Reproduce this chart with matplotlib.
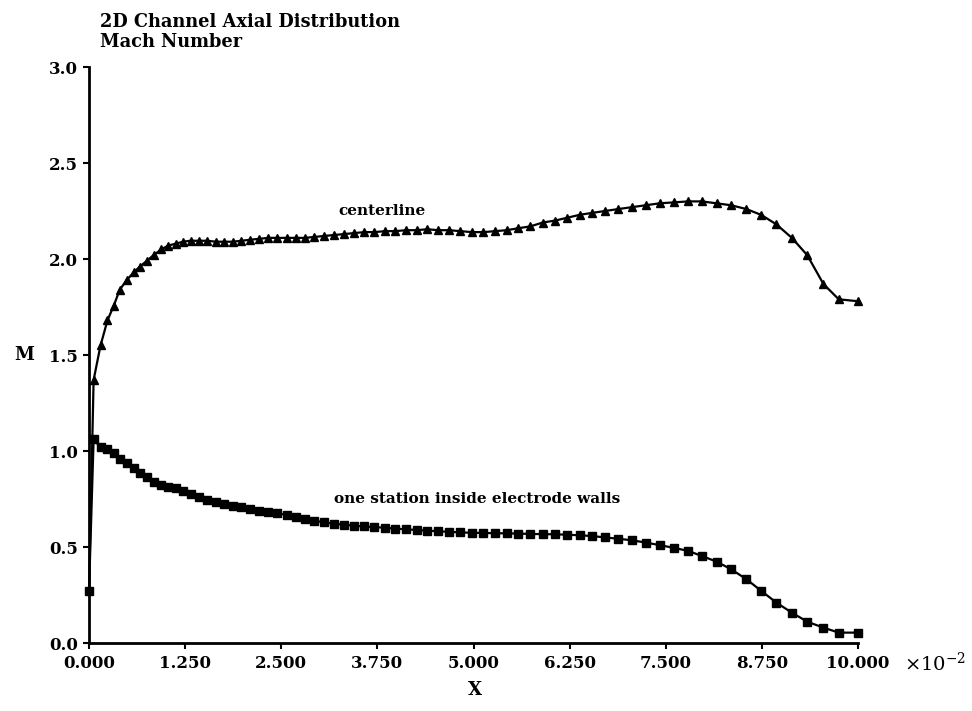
import numpy as np
import matplotlib
matplotlib.use("Agg")
import matplotlib.pyplot as plt

plt.rcParams['font.family'] = ['DejaVu Serif']
plt.rcParams['mathtext.fontset'] = 'dejavuserif'

# axial stations (x in units of 1e-2)
x = [0.00, 0.06, 0.15, 0.24, 0.32, 0.40, 0.49, 0.58, 0.66, 0.75,
     0.84, 0.94, 1.03, 1.13, 1.22, 1.32, 1.43, 1.54, 1.65, 1.76,
     1.87, 1.98, 2.09, 2.21, 2.33, 2.45, 2.57, 2.69, 2.81, 2.93,
     3.06, 3.19, 3.32, 3.45, 3.58, 3.71, 3.85, 3.98, 4.12, 4.26,
     4.40, 4.54, 4.68, 4.83, 4.98, 5.13, 5.28, 5.43, 5.58, 5.74,
     5.90, 6.06, 6.22, 6.38, 6.54, 6.71, 6.88, 7.06, 7.24, 7.42,
     7.61, 7.79, 7.97, 8.16, 8.35, 8.55, 8.74, 8.94, 9.14, 9.34,
     9.55, 9.75, 10.00]

# Mach number on the centerline
m_center = [0.27, 1.37, 1.55, 1.68, 1.755, 1.84, 1.89, 1.93, 1.96, 1.99,
            2.02, 2.05, 2.07, 2.08, 2.09, 2.095, 2.095, 2.095, 2.09, 2.09,
            2.09, 2.095, 2.10, 2.105, 2.11, 2.11, 2.11, 2.11, 2.11, 2.115,
            2.12, 2.125, 2.13, 2.135, 2.14, 2.14, 2.145, 2.145, 2.15, 2.15,
            2.155, 2.15, 2.15, 2.145, 2.14, 2.14, 2.145, 2.15, 2.16, 2.17,
            2.19, 2.20, 2.215, 2.23, 2.24, 2.25, 2.26, 2.27, 2.28, 2.29,
            2.295, 2.30, 2.30, 2.29, 2.28, 2.26, 2.23, 2.18, 2.11, 2.02,
            1.87, 1.79, 1.78]

# Mach number one station inside the electrode walls
m_wall = [0.27, 1.06, 1.02, 1.01, 0.99, 0.96, 0.935, 0.91, 0.885, 0.865,
          0.84, 0.825, 0.815, 0.805, 0.79, 0.775, 0.76, 0.745, 0.735, 0.725,
          0.715, 0.706, 0.698, 0.69, 0.683, 0.676, 0.667, 0.657, 0.648, 0.637,
          0.628, 0.621, 0.616, 0.611, 0.607, 0.604, 0.60, 0.596, 0.592, 0.589,
          0.585, 0.582, 0.579, 0.576, 0.574, 0.573, 0.572, 0.571, 0.570, 0.568,
          0.567, 0.566, 0.564, 0.561, 0.557, 0.55, 0.543, 0.535, 0.523, 0.51,
          0.495, 0.48, 0.453, 0.424, 0.384, 0.332, 0.272, 0.21, 0.158, 0.111,
          0.08, 0.054, 0.054]

xticks = [0, 1.25, 2.5, 3.75, 5.0, 6.25, 7.5, 8.75, 10.0]
yticks = [0.0, 0.5, 1.0, 1.5, 2.0, 2.5, 3.0]

fig = plt.figure(figsize=(9.72, 7.11), dpi=100)
ax = fig.add_axes([89/972, 1 - 643/711, 769/972, 576/711])

# the inlet point is shared by both curves, mark it once (square)
ax.plot(x, m_center, color='black', lw=1.6, marker='^', ms=5.5,
        markevery=list(range(1, len(x))), clip_on=False)
ax.plot(x, m_wall, color='black', lw=1.6, marker='s', ms=5.2, clip_on=False)

ax.set_xlim(0, 10)
ax.set_ylim(0, 3)
ax.spines['top'].set_visible(False)
ax.spines['right'].set_visible(False)
ax.spines['left'].set_linewidth(2.0)
ax.spines['bottom'].set_linewidth(2.0)
ax.set_xticks(xticks)
ax.set_yticks(yticks)
ax.set_xticklabels(['%.3f' % t for t in xticks])
ax.set_yticklabels(['%.1f' % t for t in yticks])
ax.tick_params(direction='out', length=4, width=1.5, labelsize=12, pad=4)
ax.tick_params(axis='x', pad=5)
for lab in ax.get_xticklabels() + ax.get_yticklabels():
    lab.set_fontweight('bold')

ax.text(3.81, 2.25, 'centerline', ha='center', va='center',
        fontsize=11, fontweight='bold')
ax.text(5.05, 0.75, 'one station inside electrode walls', ha='center',
        va='center', fontsize=11, fontweight='bold')

fig.text(24/972, 1 - 355/711, 'M', ha='center', va='center',
         fontsize=13, fontweight='bold')
fig.text(475/972, 1 - 690/711, 'X', ha='center', va='center',
         fontsize=13, fontweight='bold')
# axis multiplier sits on the tick label row
fig.text(904/972, 1 - 671/711, r'$\times10^{-2}$', ha='left', va='baseline',
         fontsize=14)

fig.text(100/972, 1 - 13/711, '2D Channel Axial Distribution\nMach Number',
         ha='left', va='top', fontsize=12.8, fontweight='bold',
         linespacing=1.15)

fig.savefig('out.png', dpi=100)
